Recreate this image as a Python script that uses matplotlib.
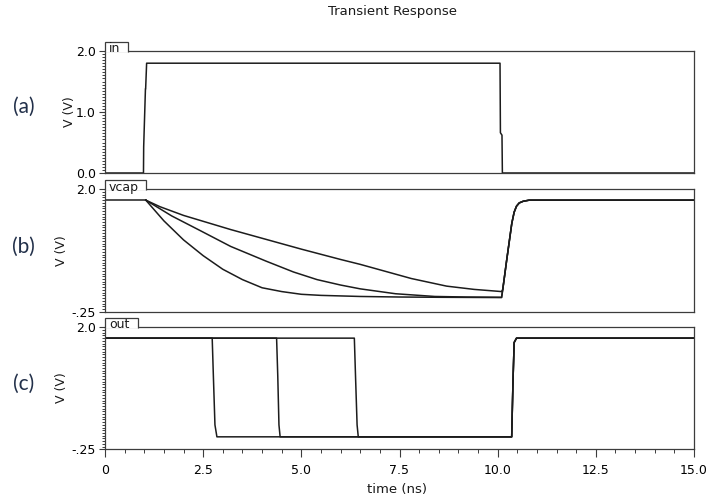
import matplotlib
matplotlib.use("Agg")
import matplotlib.pyplot as plt
import numpy as np
from matplotlib.patches import Polygon
from matplotlib.ticker import MultipleLocator, FixedLocator

# ---- waveform data (time in ns, voltage in V) ----
in_t = [0.0, 0.98, 0.985, 1.03, 1.035, 1.06, 10.06, 10.07, 10.11, 10.12, 15.0]
in_v = [0.0, 0.0, 0.43, 1.38, 1.38, 1.8, 1.8, 0.66, 0.62, 0.0, 0.0]

vcap_pre_t = [0.0, 1.04]
vcap_pre_v = [1.8, 1.8]

vcap_slow_t = [1.04, 1.4, 2.0, 2.6, 3.2, 4.1, 5.0, 6.0, 6.5, 7.2, 7.8, 8.7, 9.4, 10.1]
vcap_slow_v = [1.80, 1.68, 1.52, 1.39, 1.26, 1.08, 0.90, 0.71, 0.62, 0.48, 0.36, 0.22, 0.16, 0.12]

vcap_mid_t = [1.04, 1.7, 2.4, 3.2, 4.1, 4.8, 5.4, 6.0, 6.5, 7.4, 8.4, 9.2, 10.1]
vcap_mid_v = [1.80, 1.51, 1.25, 0.95, 0.68, 0.48, 0.34, 0.24, 0.17, 0.08, 0.03, 0.02, 0.015]

vcap_fast_t = [1.04, 1.5, 2.0, 2.5, 3.0, 3.5, 4.0, 4.5, 5.0, 5.5, 6.5, 7.5, 8.5, 10.1]
vcap_fast_v = [1.80, 1.42, 1.07, 0.78, 0.53, 0.34, 0.19, 0.12, 0.07, 0.05, 0.03, 0.02, 0.015, 0.01]

vcap_rise_t = [10.13, 10.23, 10.36, 10.42, 10.48, 10.55, 10.65, 10.8, 15.0]
vcap_rise_v = [0.16, 0.70, 1.375, 1.58, 1.69, 1.75, 1.78, 1.80, 1.80]

out_fall1_t = [0.0, 2.73, 2.76, 2.80, 2.85]
out_fall1_v = [1.8, 1.8, 1.1, 0.2, -0.02]
out_fall2_t = [0.0, 4.37, 4.40, 4.43, 4.46]
out_fall2_v = [1.8, 1.8, 1.1, 0.2, -0.02]
out_fall3_t = [0.0, 6.35, 6.38, 6.42, 6.45]
out_fall3_v = [1.8, 1.8, 1.1, 0.2, -0.02]
out_rise_t = [10.357, 10.39, 10.42, 10.48, 15.0]
out_rise_v = [-0.02, 1.0, 1.72, 1.8, 1.8]

x_major = [0, 2.5, 5.0, 7.5, 10.0, 12.5, 15.0]
x_major_labels = ["0", "2.5", "5.0", "7.5", "10.0", "12.5", "15.0"]

W, H = 711, 499
fig = plt.figure(figsize=(W / 100, H / 100), dpi=100)

TRACE = "#1c1c1c"
FRAME = "#3c3c3c"
LW = 1.1


def fx(px):
    return px / W


def fy(py):
    return 1 - py / H


def make_axes(top, bottom):
    ax = fig.add_axes([fx(105), fy(bottom), fx(694) - fx(105), fy(top) - fy(bottom)])
    ax.set_xlim(0, 15)
    for s in ax.spines.values():
        s.set_color(FRAME)
        s.set_linewidth(0.9)
    ax.tick_params(axis="both", which="major", direction="out", length=4.5,
                   width=0.8, color=FRAME, labelsize=9, pad=2)
    ax.tick_params(axis="both", which="minor", direction="out", length=2.0,
                   width=0.7, color=FRAME)
    ax.yaxis.set_minor_locator(MultipleLocator(0.05))
    return ax


def add_tab(top, tab_top, tab_right, label):
    pts = [(fx(105), fy(top + 0.7)), (fx(105), fy(tab_top)),
           (fx(tab_right), fy(tab_top)), (fx(tab_right), fy(top + 0.7))]
    poly = Polygon(pts, closed=False, transform=fig.transFigure,
                   facecolor="white", edgecolor=FRAME, linewidth=0.9, zorder=5)
    fig.add_artist(poly)
    fig.text(fx(109), fy(tab_top + 0.5), label, ha="left", va="top",
             fontsize=9, color="#1a1a1a", zorder=6)


# panel geometry in pixels (top, bottom)
pa = (51, 173)
pb = (189.3, 311.7)
pc = (327.3, 449.3)

ax_a = make_axes(*pa)
ax_b = make_axes(*pb)
ax_c = make_axes(*pc)

# (a) input
ax_a.plot(in_t, in_v, color=TRACE, lw=LW)
ax_a.set_ylim(0, 2.0)
ax_a.yaxis.set_major_locator(FixedLocator([0.0, 1.0, 2.0]))
ax_a.set_yticklabels(["0.0", "1.0", "2.0"])

# (b) capacitor voltage
ax_b.plot(vcap_pre_t, vcap_pre_v, color=TRACE, lw=LW)
for ts, vs in [(vcap_slow_t, vcap_slow_v), (vcap_mid_t, vcap_mid_v),
               (vcap_fast_t, vcap_fast_v)]:
    ax_b.plot(list(ts) + vcap_rise_t, list(vs) + vcap_rise_v, color=TRACE, lw=LW)
ax_b.set_ylim(-0.25, 2.0)
ax_b.yaxis.set_major_locator(FixedLocator([-0.25, 2.0]))
ax_b.set_yticklabels(["-.25", "2.0"])

# (c) output
for ts, vs in [(out_fall1_t, out_fall1_v), (out_fall2_t, out_fall2_v),
               (out_fall3_t, out_fall3_v)]:
    ax_c.plot(list(ts) + out_rise_t, list(vs) + out_rise_v, color=TRACE, lw=LW)
ax_c.set_ylim(-0.25, 2.0)
ax_c.yaxis.set_major_locator(FixedLocator([-0.25, 2.0]))
ax_c.set_yticklabels(["-.25", "2.0"])

for ax in (ax_a, ax_b):
    ax.tick_params(axis="x", which="both", bottom=False, labelbottom=False)

ax_c.xaxis.set_major_locator(FixedLocator(x_major))
ax_c.set_xticklabels(x_major_labels)
ax_c.xaxis.set_minor_locator(MultipleLocator(0.5))
ax_c.tick_params(axis="x", which="major", length=5.5, pad=5)
ax_c.tick_params(axis="x", which="minor", length=3)

# signal name tabs
add_tab(pa[0], 41.7, 127.5, "in")
add_tab(pb[0], 180.0, 146.0, "vcap")
add_tab(pc[0], 317.7, 137.5, "out")

# y-axis labels
fig.text(fx(69), fy(112), "V (V)", rotation=90, ha="center", va="center",
         fontsize=9, color="#1a1a1a")
fig.text(fx(61), fy(250.5), "V (V)", rotation=90, ha="center", va="center",
         fontsize=9, color="#1a1a1a")
fig.text(fx(61), fy(388), "V (V)", rotation=90, ha="center", va="center",
         fontsize=9, color="#1a1a1a")

# panel letters
for letter, ypx in [("(a)", 106.5), ("(b)", 247), ("(c)", 384)]:
    fig.text(fx(23.5), fy(ypx), letter, ha="center", va="center",
             fontsize=15, family="Lato", color="#22304a")

fig.text(fx(393), fy(12), "Transient Response", ha="center", va="center",
         fontsize=9.5, color="#1a1a1a")
fig.text(fx(397), fy(489), "time (ns)", ha="center", va="center",
         fontsize=9.5, color="#1a1a1a")

fig.savefig("out.png", dpi=100, facecolor="white")
